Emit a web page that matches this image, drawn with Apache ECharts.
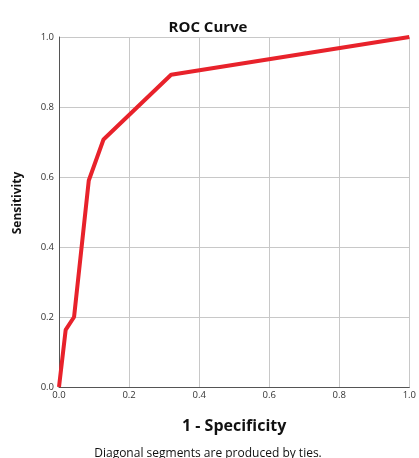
<!DOCTYPE html>
<html><head><meta charset="utf-8">
<script src="https://cdn.jsdelivr.net/npm/echarts@6/dist/echarts.min.js"></script>
<style>html,body{margin:0;padding:0;background:#fff}#c{width:419px;height:458px}</style>
</head><body><div id="c"></div>
<script>
const fpr = [0.0, 0.019, 0.043, 0.085, 0.127, 0.32, 1.0];
const tpr = [0.0, 0.163, 0.20, 0.59, 0.707, 0.892, 1.0];
const tickLabels = ['0.0', '0.2', '0.4', '0.6', '0.8', '1.0'];
const titleText = 'ROC Curve';
const xName = '1 - Specificity';
const yName = 'Sensitivity';
const footnote = 'Diagonal segments are produced by ties.';

const chart = echarts.init(document.getElementById('c'), null, {renderer: 'canvas'});
const font = '"Open Sans", "DejaVu Sans", sans-serif';
chart.setOption({
  animation: false,
  textStyle: {fontFamily: font},
  title: [
    {text: titleText, left: 203, top: 15, textAlign: 'center',
     textStyle: {fontSize: 15, fontWeight: 'bold', color: '#111', fontFamily: font}},
    {text: footnote, left: 203, top: 443, textAlign: 'center',
     textStyle: {fontSize: 12, fontWeight: 'normal', color: '#111', fontFamily: font}}
  ],
  graphic: [{
    type: 'text', x: 18, y: 203, rotation: Math.PI / 2,
    style: {text: yName, fontSize: 12, fontWeight: 'bold', fill: '#111', fontFamily: font,
      textAlign: 'center', textVerticalAlign: 'middle'}
  }],
  grid: {left: 59, right: 9, top: 37, bottom: 71, containLabel: false},
  xAxis: {
    type: 'value', min: 0, max: 1, interval: 0.2,
    name: xName, nameLocation: 'middle', nameGap: 31,
    nameTextStyle: {fontSize: 16, fontWeight: 'bold', color: '#111', fontFamily: font},
    axisLine: {lineStyle: {color: '#555', width: 1}},
    axisTick: {show: false},
    axisLabel: {fontSize: 9.5, color: '#333', margin: 3,
      formatter: v => tickLabels[Math.round(v * 5)]},
    splitLine: {show: true, lineStyle: {color: '#c8c8c8', width: 1}}
  },
  yAxis: {
    type: 'value', min: 0, max: 1, interval: 0.2,
    axisLine: {show: true, lineStyle: {color: '#555', width: 1}},
    axisTick: {show: false},
    axisLabel: {fontSize: 9.5, color: '#333', margin: 5,
      formatter: v => tickLabels[Math.round(v * 5)]},
    splitLine: {show: true, lineStyle: {color: '#c8c8c8', width: 1}}
  },
  series: [{
    type: 'line',
    data: fpr.map((x, i) => [x, tpr[i]]),
    showSymbol: false,
    lineStyle: {color: '#e8222b', width: 4},
    z: 5
  }]
});
</script></body></html>
